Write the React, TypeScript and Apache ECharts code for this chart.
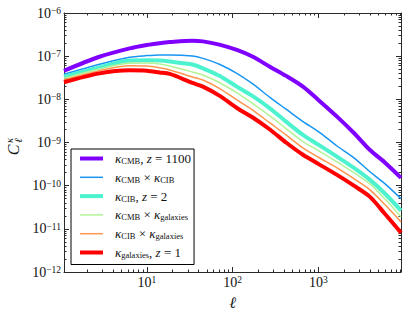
import React, { useEffect, useRef } from 'react';
import * as echarts from 'echarts';

// multipole ℓ at which values were read
const ELL = [1.08, 2.8, 6.3, 10, 14, 18.5, 34, 45, 70, 112, 170, 272, 420, 661, 1000, 1650, 2600, 4000, 6000, 9200];
// C_ℓ values
const K_CMB = [4.6e-8, 9.7e-8, 1.52e-7, 1.82e-7, 2.0e-7, 2.12e-7, 2.28e-7, 2.2e-7, 1.85e-7, 1.39e-7, 9.8e-8, 5.7e-8, 3.5e-8, 1.97e-8, 9.7e-9, 3.98e-9, 1.66e-9, 6.7e-10, 3.4e-10, 1.52e-10];
const K_CMB_X_CIB = [3.81e-8, 6.5e-8, 9.4e-8, 1.03e-7, 1.07e-7, 1.07e-7, 1.01e-7, 8.9e-8, 6.5e-8, 4.0e-8, 2.3e-8, 1.11e-8, 5.9e-9, 3.05e-9, 1.79e-9, 8.3e-10, 4.4e-10, 2.1e-10, 1.1e-10, 5.0e-11];
const K_CIB = [3.35e-8, 5.5e-8, 7.9e-8, 8.0e-8, 7.9e-8, 7.5e-8, 6.4e-8, 5.2e-8, 3.5e-8, 1.97e-8, 1.2e-8, 6.2e-9, 3.05e-9, 1.5e-9, 8.9e-10, 4.7e-10, 2.58e-10, 1.36e-10, 6.5e-11, 2.65e-11];
const K_CMB_X_GAL = [3.08e-8, 5.06e-8, 6.85e-8, 6.9e-8, 6.6e-8, 5.9e-8, 4.3e-8, 3.67e-8, 2.45e-8, 1.41e-8, 8.1e-9, 4.13e-9, 2.1e-9, 1.05e-9, 6.5e-10, 3.56e-10, 2.0e-10, 1.1e-10, 4.9e-11, 1.9e-11];
const K_CIB_X_GAL = [2.81e-8, 4.6e-8, 6.0e-8, 5.9e-8, 5.4e-8, 4.8e-8, 3.3e-8, 2.81e-8, 1.8e-8, 9.7e-9, 5.7e-9, 2.84e-9, 1.5e-9, 7.5e-10, 4.55e-10, 2.58e-10, 1.45e-10, 8.0e-11, 3.6e-11, 1.45e-11];
const K_GAL = [2.49e-8, 4.0e-8, 4.7e-8, 4.6e-8, 4.2e-8, 3.87e-8, 2.4e-8, 1.97e-8, 1.22e-8, 6.3e-9, 3.85e-9, 2.0e-9, 1.0e-9, 5.2e-10, 3.2e-10, 1.78e-10, 1.0e-10, 5.5e-11, 2.2e-11, 8.1e-12];

const SERIES_NAMES = ['kCMB', 'kCMBxkCIB', 'kCIB', 'kCMBxkgal', 'kCIBxkgal', 'kgal'];
const SERIES_VALUES = [K_CMB, K_CMB_X_CIB, K_CIB, K_CMB_X_GAL, K_CIB_X_GAL, K_GAL];
const LEGEND_LABELS = [
  '{k|κ}{s|CMB}{r|, }{i|z}{r| = 1100}',
  '{k|κ}{s|CMB}{r| × }{k|κ}{s|CIB}',
  '{k|κ}{s|CIB}{r|, }{i|z}{r| = 2}',
  '{k|κ}{s|CMB}{r| × }{k|κ}{s|galaxies}',
  '{k|κ}{s|CIB}{r| × }{k|κ}{s|galaxies}',
  '{k|κ}{s|galaxies}{r|, }{i|z}{r| = 1}',
];
const COLORS = ['#8000ff', '#1996f3', '#4df3ce', '#b2f396', '#ff964f', '#ff0000'];
const WIDTHS = [4, 1.5, 4, 1.5, 1.5, 4];

const X_RANGE = [1.08, 9200];
const Y_RANGE = [1e-12, 1e-6];
const X_MAJOR = [10, 100, 1000];
const Y_MAJOR = [1e-12, 1e-11, 1e-10, 1e-9, 1e-8, 1e-7, 1e-6];

const SERIF = '"Liberation Serif", "DejaVu Serif", serif';
const AXIS_COLOR = '#2a2a2a';

function minorTicks(lo: number, hi: number): number[] {
  const out: number[] = [];
  for (let k = Math.floor(Math.log10(lo)); k <= Math.ceil(Math.log10(hi)); k++) {
    for (let m = 2; m <= 9; m++) {
      const v = m * Math.pow(10, k);
      if (v > lo && v < hi) out.push(Math.log10(v));
    }
  }
  return out;
}

export default function App() {
  const ref = useRef<HTMLDivElement>(null);
  useEffect(() => {
    if (!ref.current) return;
    const chart = echarts.init(ref.current, undefined, { renderer: 'svg' });
    const lx = (v: number) => Math.log10(v);
    const xMin = lx(X_RANGE[0]);
    const xMax = lx(X_RANGE[1]);
    const yMin = lx(Y_RANGE[0]);
    const yMax = lx(Y_RANGE[1]);
    const xMinor = minorTicks(X_RANGE[0], X_RANGE[1]);
    const yMinor = minorTicks(Y_RANGE[0], Y_RANGE[1]);
    const labelRich = {
      b: { fontFamily: SERIF, fontSize: 14, lineHeight: 14, color: '#111' },
      p: { fontFamily: SERIF, fontSize: 9.5, lineHeight: 6, verticalAlign: 'top', color: '#111' },
    };
    const mkX = (position: string, major: boolean, labels: boolean, name?: string) => ({
      type: 'value',
      position,
      min: xMin,
      max: xMax,
      name,
      nameLocation: 'middle',
      nameGap: 22,
      nameTextStyle: { fontFamily: SERIF, fontStyle: 'italic', fontSize: 16, color: '#111' },
      axisLine: { show: major, onZero: false, lineStyle: { color: AXIS_COLOR, width: 1 } },
      axisTick: {
        show: true,
        inside: true,
        length: major ? 5 : 2.5,
        customValues: major ? X_MAJOR.map(lx) : xMinor,
        lineStyle: { color: AXIS_COLOR, width: 1 },
      },
      axisLabel: labels
        ? {
            show: true,
            margin: 3,
            customValues: X_MAJOR.map(lx),
            formatter: (v: number) => `{b|10}{p|${Math.round(v)}}`,
            rich: labelRich,
          }
        : { show: false },
      splitLine: { show: false },
    });
    const mkY = (position: string, major: boolean, labels: boolean) => ({
      type: 'value',
      position,
      min: yMin,
      max: yMax,
      axisLine: { show: major, onZero: false, lineStyle: { color: AXIS_COLOR, width: 1 } },
      axisTick: {
        show: true,
        inside: true,
        length: major ? 5 : 2.5,
        customValues: major ? Y_MAJOR.map(lx) : yMinor,
        lineStyle: { color: AXIS_COLOR, width: 1 },
      },
      axisLabel: labels
        ? {
            show: true,
            margin: 3,
            customValues: Y_MAJOR.map(lx),
            formatter: (v: number) => `{b|10}{p|−${Math.round(-v)}}`,
            rich: labelRich,
          }
        : { show: false },
      splitLine: { show: false },
    });

    const option: any = {
      animation: false,
      backgroundColor: '#fff',
      grid: { left: 64, right: 6, top: 13, bottom: 44, containLabel: false, outerBoundsMode: 'none' },
      xAxis: [
        mkX('bottom', true, true, 'ℓ'),
        mkX('bottom', false, false),
        mkX('top', true, false),
        mkX('top', false, false),
      ],
      yAxis: [
        mkY('left', true, true),
        mkY('left', false, false),
        mkY('right', true, false),
        mkY('right', false, false),
      ],
      legend: {
        orient: 'vertical',
        left: 71,
        top: 149,
        padding: [3, 3, 5, 7],
        itemWidth: 23,
        itemHeight: 14,
        itemGap: 5.3,
        borderColor: '#000',
        borderWidth: 1,
        borderRadius: 0,
        backgroundColor: '#fff',
        selectedMode: false,
        data: SERIES_NAMES.map((n, i) => ({
          name: n,
          lineStyle: { width: WIDTHS[i], color: COLORS[i] },
          itemStyle: { color: 'rgba(0,0,0,0)', borderColor: 'rgba(0,0,0,0)', borderWidth: 0, opacity: 0 },
        })),
        formatter: (n: string) => LEGEND_LABELS[SERIES_NAMES.indexOf(n)],
        textStyle: {
          padding: [0, 0, 0, 7],
          fontFamily: SERIF,
          color: '#111',
          rich: {
            k: { fontFamily: SERIF, fontStyle: 'italic', fontSize: 13, lineHeight: 14, color: '#111' },
            i: { fontFamily: SERIF, fontStyle: 'italic', fontSize: 13, lineHeight: 14, color: '#111' },
            r: { fontFamily: SERIF, fontSize: 13, lineHeight: 14, color: '#111' },
            s: { fontFamily: SERIF, fontSize: 8.5, lineHeight: 6, verticalAlign: 'bottom', color: '#111' },
          },
        },
      },
      graphic: [
        {
          type: 'group',
          x: 13,
          y: 150,
          rotation: Math.PI / 2,
          children: [
            {
              type: 'text',
              x: 0,
              y: 0,
              style: { text: 'C', fontFamily: SERIF, fontStyle: 'italic', fontSize: 16, fill: '#111', align: 'center', verticalAlign: 'middle' },
            },
            {
              type: 'text',
              x: 9.5,
              y: -4,
              style: { text: 'κ', fontFamily: SERIF, fontStyle: 'italic', fontSize: 10.5, fill: '#111', align: 'center', verticalAlign: 'middle' },
            },
            {
              type: 'text',
              x: 9.5,
              y: 5,
              style: { text: 'ℓ', fontFamily: SERIF, fontStyle: 'italic', fontSize: 10.5, fill: '#111', align: 'center', verticalAlign: 'middle' },
            },
          ],
        },
      ],
      series: SERIES_NAMES.map((n, i) => ({
        name: n,
        type: 'line',
        xAxisIndex: 0,
        yAxisIndex: 0,
        symbol: 'none',
        showSymbol: false,
        smooth: 0.3,
        color: COLORS[i],
        lineStyle: { color: COLORS[i], width: WIDTHS[i] },
        data: ELL.map((l, j) => [lx(l), lx(SERIES_VALUES[i][j])]),
      })),
    };
    chart.setOption(option);
    return () => chart.dispose();
  }, []);
  return <div ref={ref} style={{ position: 'fixed', left: 0, top: 0, width: 407, height: 316 }} />;
}
